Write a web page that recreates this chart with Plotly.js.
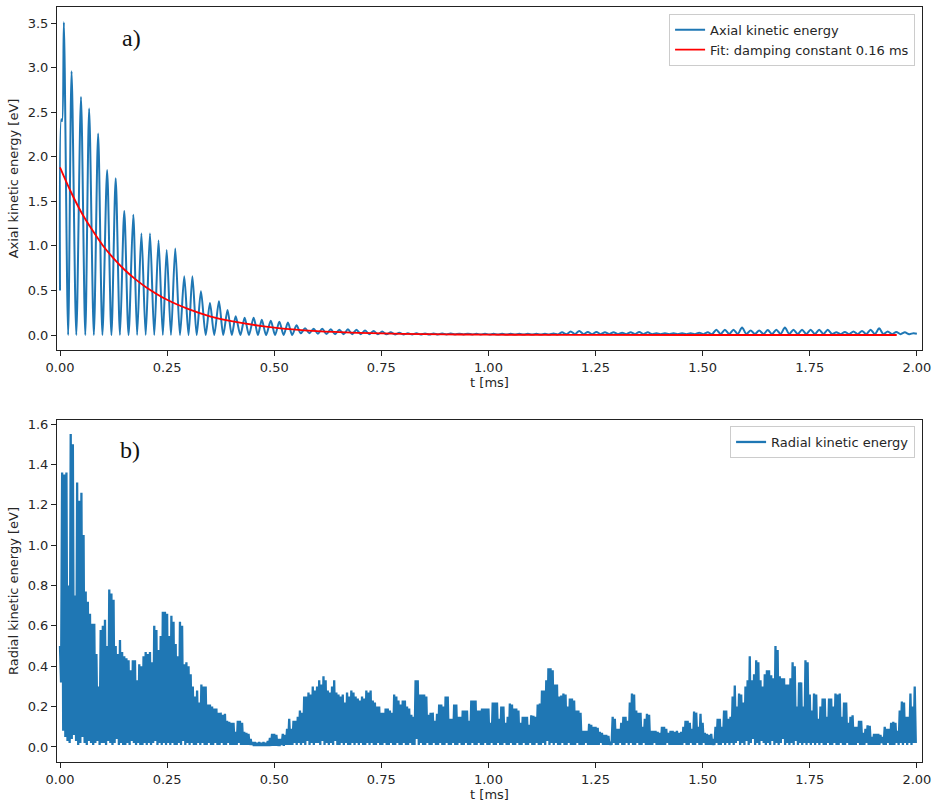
<!DOCTYPE html>
<html>
<head>
<meta charset="utf-8">
<script src="https://cdn.plot.ly/plotly-3.0.1.min.js"></script>
<style>html,body{margin:0;padding:0;background:#fff;}#chart{width:937px;height:805px;}</style>
</head>
<body>
<div id="chart"></div>
<script>
// ---------- panel a) axial kinetic energy ----------
const axStartT = [0, 0.003, 0.005];
const axStartE = [0.5, 2.42, 2.40];
const axPeakT = [
0.009,0.027,0.049,0.068,0.089,0.110,0.130,0.150,0.171,0.190,
0.210,0.230,0.249,0.269,0.290,0.309,0.329,0.350,0.371,0.391,
0.410,0.431,0.452,0.471,0.492,0.512,0.532,0.552,0.572,0.592,
0.612,0.632,0.652,0.672,0.692,0.712,0.732,0.752,0.772,0.792,
0.812,0.832,0.852,0.872,0.892,0.912,0.932,0.952,0.972,0.992,
1.012,1.032,1.052,1.072,1.092,1.112,1.132,1.152,1.172,1.192,
1.212,1.232,1.252,1.272,1.292,1.312,1.332,1.352,1.372,1.392,
1.412,1.432,1.452,1.472,1.492,1.512,1.532,1.552,1.572,1.592,
1.612,1.632,1.652,1.672,1.692,1.712,1.732,1.752,1.772,1.792,
1.812,1.832,1.852,1.872,1.892,1.912,1.932,1.952,1.972,1.992];
const axPeakE = [
3.51,2.96,2.67,2.54,2.26,1.85,1.76,1.39,1.35,1.14,
1.14,1.06,0.955,0.97,0.66,0.66,0.49,0.36,0.38,0.28,
0.21,0.195,0.195,0.17,0.16,0.15,0.14,0.11,0.075,0.07,
0.07,0.065,0.06,0.065,0.06,0.05,0.045,0.04,0.03,0.025,
0.02,0.02,0.018,0.018,0.016,0.016,0.015,0.015,0.014,0.014,
0.013,0.013,0.013,0.013,0.013,0.013,0.013,0.018,0.03,0.04,
0.045,0.035,0.035,0.03,0.03,0.025,0.03,0.035,0.03,0.02,
0.02,0.02,0.02,0.02,0.025,0.03,0.06,0.06,0.06,0.085,
0.05,0.05,0.055,0.06,0.085,0.06,0.06,0.06,0.06,0.06,
0.03,0.035,0.04,0.045,0.06,0.075,0.04,0.035,0.03,0.02];
const axTroughT = [
0.019,0.038,0.059,0.079,0.099,0.120,0.140,0.160,0.180,0.200,
0.220,0.240,0.259,0.280,0.300,0.319,0.340,0.360,0.381,0.401,
0.421,0.441,0.462,0.481,0.502,0.522,0.542,0.562,0.582,0.602,
0.622,0.642,0.662,0.682,0.702,0.722,0.742,0.762,0.782,0.802,
0.822,0.842,0.862,0.882,0.902,0.922,0.942,0.962,0.982,1.002,
1.022,1.042,1.062,1.082,1.102,1.122,1.142,1.162,1.182,1.202,
1.222,1.242,1.262,1.282,1.302,1.322,1.342,1.362,1.382,1.402,
1.422,1.442,1.462,1.482,1.502,1.522,1.542,1.562,1.582,1.602,
1.622,1.642,1.662,1.682,1.702,1.722,1.742,1.762,1.782,1.802,
1.822,1.842,1.862,1.882,1.902,1.922,1.942,1.962,1.982,2.000];
const axTroughE = [
0,0,0,0,0,0,0,0,0,0,
0,0,0,0,0,0,0,0,0,0,
0,0,0,0,0,0,0,0.02,0.02,0.015,
0.012,0.01,0.01,0.01,0.01,0.01,0.008,0.008,0.007,0.007,
0.006,0.006,0.006,0.006,0.006,0.006,0.006,0.006,0.006,0.006,
0.006,0.006,0.006,0.006,0.006,0.006,0.006,0.006,0.008,0.01,
0.01,0.01,0.01,0.01,0.01,0.01,0.01,0.01,0.01,0.01,
0.01,0.01,0.01,0.01,0.01,0.01,0.012,0.012,0.012,0.012,
0.012,0.012,0.012,0.012,0.012,0.012,0.012,0.012,0.012,0.012,
0.01,0.01,0.01,0.01,0.01,0.01,0.01,0.01,0.01,0.015];

const fitT = [0,0.025,0.05,0.075,0.1,0.125,0.15,0.175,0.2,0.25,0.3,0.35,0.4,0.5,0.6,0.7,0.8,0.9,1.0,1.2,1.5,1.953];
const fitE = [1.88,1.61,1.375,1.18,1.005,0.86,0.735,0.63,0.54,0.395,0.29,0.21,0.155,0.083,0.044,0.024,0.013,0.007,0.004,0.001,0.0,0.0];

// ---------- panel b) radial kinetic energy (sampled every 0.005 ms: crest, then base) ----------
const radStep = 0.005;
const radPeak = [
0.50,1.36,1.35,1.36,0.80,1.55,1.50,0.75,1.31,1.22,
1.26,1.05,0.77,0.72,0.66,0.61,0.61,0.46,0.30,0.58,
0.60,0.63,0.50,0.78,0.76,0.73,0.50,0.46,0.53,0.47,
0.45,0.44,0.43,0.38,0.43,0.43,0.33,0.41,0.40,0.45,
0.47,0.46,0.47,0.42,0.60,0.58,0.48,0.55,0.67,0.67,
0.66,0.55,0.65,0.62,0.51,0.45,0.62,0.60,0.41,0.42,
0.40,0.36,0.30,0.25,0.28,0.22,0.31,0.30,0.30,0.21,
0.21,0.20,0.19,0.19,0.17,0.17,0.16,0.165,0.13,0.125,
0.12,0.12,0.075,0.13,0.13,0.12,0.075,0.07,0.065,0.04,
0.025,0.025,0.02,0.025,0.02,0.025,0.02,0.03,0.045,0.065,
0.065,0.06,0.04,0.04,0.065,0.06,0.09,0.14,0.09,0.13,
0.13,0.15,0.18,0.17,0.25,0.25,0.27,0.26,0.30,0.28,
0.30,0.33,0.31,0.35,0.33,0.28,0.27,0.30,0.33,0.27,
0.26,0.25,0.26,0.22,0.27,0.25,0.28,0.27,0.25,0.24,
0.23,0.25,0.24,0.28,0.27,0.28,0.23,0.22,0.20,0.20,
0.17,0.17,0.19,0.19,0.18,0.17,0.26,0.25,0.23,0.21,
0.23,0.23,0.20,0.19,0.16,0.15,0.33,0.33,0.26,0.26,
0.26,0.25,0.16,0.17,0.17,0.13,0.165,0.21,0.21,0.20,
0.25,0.25,0.14,0.14,0.21,0.21,0.15,0.15,0.18,0.18,
0.18,0.13,0.23,0.23,0.23,0.18,0.18,0.19,0.19,0.19,
0.19,0.12,0.22,0.22,0.22,0.14,0.20,0.20,0.12,0.15,
0.215,0.21,0.19,0.19,0.18,0.12,0.15,0.15,0.15,0.11,
0.157,0.155,0.15,0.21,0.215,0.28,0.28,0.33,0.39,0.39,
0.38,0.31,0.31,0.25,0.255,0.265,0.26,0.20,0.24,0.24,
0.23,0.18,0.18,0.17,0.08,0.08,0.08,0.115,0.11,0.10,
0.10,0.095,0.075,0.07,0.06,0.06,0.055,0.025,0.15,0.14,
0.09,0.09,0.12,0.15,0.15,0.13,0.22,0.265,0.26,0.18,
0.17,0.17,0.10,0.14,0.165,0.16,0.08,0.08,0.08,0.075,
0.07,0.10,0.10,0.09,0.07,0.08,0.08,0.075,0.08,0.07,
0.075,0.10,0.13,0.13,0.12,0.09,0.175,0.17,0.10,0.165,
0.12,0.07,0.065,0.06,0.065,0.04,0.10,0.14,0.14,0.10,
0.18,0.18,0.14,0.15,0.25,0.305,0.20,0.265,0.26,0.22,
0.30,0.33,0.45,0.33,0.36,0.43,0.42,0.33,0.30,0.36,
0.38,0.38,0.355,0.34,0.50,0.48,0.35,0.34,0.34,0.31,
0.31,0.34,0.42,0.40,0.20,0.32,0.32,0.20,0.43,0.42,
0.26,0.18,0.265,0.26,0.14,0.20,0.24,0.24,0.15,0.24,
0.24,0.20,0.265,0.26,0.265,0.15,0.22,0.22,0.12,0.15,
0.157,0.10,0.10,0.13,0.13,0.07,0.09,0.107,0.105,0.05,
0.065,0.065,0.065,0.06,0.05,0.10,0.09,0.09,0.12,0.125,
0.12,0.08,0.18,0.225,0.22,0.15,0.15,0.265,0.20,0.30];
const radBase = [
0.32,0.08,0.05,0.03,0.02,0.04,0.06,0.03,0.01,0.02,
0.05,0.02,0.01,0.03,0.02,0.01,0.02,0.03,0.01,0.02,
0.02,0.01,0.03,0.02,0.01,0.02,0.04,0.01,0.02,0.01,
0.01,0.02,0.01,0.03,0.02,0.01,0.02,0.01,0.01,0.02,
0.01,0.02,0.01,0.02,0.03,0.01,0.02,0.01,0.02,0.01,
0.02,0.01,0.02,0.01,0.01,0.02,0.01,0.03,0.01,0.02,
0.01,0.02,0.01,0.01,0.02,0.01,0.02,0.01,0.01,0.02,
0.01,0.01,0.02,0.01,0.01,0.02,0.01,0.01,0.02,0.01,
0.01,0.01,0.01,0.02,0.01,0.01,0.01,0.01,0.01,0.01,
0.005,0.005,0.005,0.005,0.005,0.005,0.005,0.005,0.005,0.005,
0.005,0.005,0.005,0.01,0.005,0.01,0.01,0.01,0.01,0.02,
0.01,0.02,0.01,0.02,0.01,0.03,0.01,0.02,0.01,0.02,
0.02,0.01,0.03,0.01,0.02,0.01,0.02,0.01,0.03,0.01,
0.01,0.02,0.01,0.02,0.01,0.01,0.02,0.01,0.02,0.01,
0.02,0.01,0.01,0.02,0.01,0.02,0.01,0.01,0.02,0.01,
0.01,0.02,0.01,0.01,0.02,0.01,0.01,0.02,0.01,0.01,
0.02,0.01,0.01,0.02,0.01,0.01,0.04,0.01,0.02,0.01,
0.01,0.02,0.01,0.01,0.02,0.01,0.01,0.02,0.01,0.01,
0.02,0.01,0.01,0.02,0.01,0.01,0.02,0.01,0.01,0.02,
0.01,0.01,0.02,0.01,0.01,0.02,0.01,0.01,0.02,0.01,
0.01,0.02,0.01,0.01,0.02,0.01,0.01,0.02,0.01,0.01,
0.02,0.01,0.01,0.02,0.01,0.01,0.02,0.01,0.01,0.02,
0.01,0.01,0.02,0.01,0.01,0.02,0.01,0.03,0.01,0.02,
0.01,0.02,0.01,0.01,0.02,0.01,0.01,0.02,0.01,0.01,
0.01,0.02,0.01,0.01,0.01,0.02,0.01,0.01,0.01,0.01,
0.01,0.01,0.02,0.01,0.01,0.01,0.01,0.01,0.02,0.01,
0.01,0.02,0.01,0.01,0.02,0.01,0.02,0.01,0.01,0.02,
0.01,0.01,0.02,0.01,0.01,0.01,0.01,0.02,0.01,0.01,
0.01,0.01,0.01,0.02,0.01,0.01,0.01,0.01,0.01,0.01,
0.01,0.02,0.01,0.01,0.02,0.01,0.01,0.02,0.01,0.01,
0.02,0.01,0.01,0.01,0.01,0.01,0.02,0.01,0.01,0.02,
0.01,0.02,0.01,0.02,0.01,0.02,0.03,0.01,0.02,0.01,
0.03,0.01,0.02,0.04,0.01,0.02,0.01,0.03,0.02,0.01,
0.02,0.01,0.03,0.01,0.02,0.01,0.02,0.04,0.01,0.02,
0.01,0.02,0.01,0.03,0.01,0.02,0.01,0.02,0.01,0.02,
0.01,0.02,0.01,0.02,0.01,0.02,0.01,0.01,0.02,0.01,
0.01,0.02,0.01,0.01,0.02,0.01,0.01,0.02,0.01,0.01,
0.01,0.01,0.02,0.01,0.01,0.01,0.02,0.01,0.01,0.01,
0.01,0.01,0.01,0.02,0.01,0.01,0.02,0.01,0.01,0.01,
0.02,0.01,0.02,0.01,0.02,0.01,0.02,0.01,0.02,0.02];

const xTicks = [0, 0.25, 0.5, 0.75, 1.0, 1.25, 1.5, 1.75, 2.0];
const yTicksA = [0, 0.5, 1.0, 1.5, 2.0, 2.5, 3.0, 3.5];
const yTicksB = [0, 0.2, 0.4, 0.6, 0.8, 1.0, 1.2, 1.4, 1.6];

// ---- assemble line series ----
const axT = axStartT.slice(), axE = axStartE.slice();
for (let i = 0; i < axPeakT.length; i++) {
  axT.push(axPeakT[i]); axE.push(axPeakE[i]);
  axT.push(axTroughT[i]); axE.push(axTroughE[i]);
}
const radT = [], radE = [];
for (let i = 0; i < radPeak.length; i++) {
  radT.push(i * radStep); radE.push(radPeak[i]);
  radT.push(i * radStep + radStep / 2); radE.push(radBase[i]);
}

const FONT = 'DejaVu Sans, Arial, sans-serif';
const blue = '#1f77b4';
const TXT = '#262626';

const traces = [
  {x: axT, y: axE, type: 'scatter', mode: 'lines', name: 'Axial kinetic energy',
   line: {color: blue, width: 2, shape: 'spline', smoothing: 0.8}, xaxis: 'x', yaxis: 'y', legend: 'legend'},
  {x: fitT, y: fitE, type: 'scatter', mode: 'lines', name: 'Fit: damping constant 0.16 ms',
   line: {color: '#ff0000', width: 1.8, shape: 'spline'}, xaxis: 'x', yaxis: 'y', legend: 'legend'},
  {x: radT, y: radE, type: 'scatter', mode: 'lines', name: 'Radial kinetic energy',
   line: {color: blue, width: 2.3}, xaxis: 'x2', yaxis: 'y2', legend: 'legend2'}
];

function xAxis(anchor) {
  return {anchor: anchor, range: [-0.007, 2.012], tickvals: xTicks, tickformat: '.2f',
    ticks: 'outside', ticklen: 5, tickwidth: 1, tickcolor: '#222',
    showline: true, mirror: true, linecolor: '#222', linewidth: 1, showgrid: false, zeroline: false,
    tickfont: {family: FONT, size: 13, color: TXT},
    title: {text: 't [ms]', font: {family: FONT, size: 13, color: TXT}, standoff: 4}};
}
function yAxis(anchor, dom, rng, tv, txt) {
  return {anchor: anchor, domain: dom, range: rng, tickvals: tv, tickformat: '.1f',
    ticks: 'outside', ticklen: 5, tickwidth: 1, tickcolor: '#222',
    showline: true, mirror: true, linecolor: '#222', linewidth: 1, showgrid: false, zeroline: false,
    tickfont: {family: FONT, size: 13, color: TXT},
    title: {text: txt, font: {family: FONT, size: 13, color: TXT}, standoff: 6}};
}

const layout = {
  width: 937, height: 805,
  margin: {l: 57, r: 15, t: 7, b: 43},
  paper_bgcolor: '#fff', plot_bgcolor: '#fff',
  showlegend: true,
  xaxis: xAxis('y'),
  yaxis: yAxis('x', [0.5457, 1], [-0.168, 3.68], yTicksA, 'Axial kinetic energy [eV]'),
  xaxis2: xAxis('y2'),
  yaxis2: yAxis('x2', [0, 0.453], [-0.0744, 1.62], yTicksB, 'Radial kinetic energy [eV]'),
  legend: {x: 0.992, y: 0.991, xanchor: 'right', yanchor: 'top', bgcolor: 'rgba(255,255,255,0.9)',
    bordercolor: '#ccc', borderwidth: 1, font: {family: FONT, size: 13, color: TXT}, tracegroupgap: 0},
  legend2: {x: 0.992, y: 0.445, xanchor: 'right', yanchor: 'top', bgcolor: 'rgba(255,255,255,0.9)',
    bordercolor: '#ccc', borderwidth: 1, font: {family: FONT, size: 13, color: TXT}},
  annotations: [
    {text: 'a)', xref: 'paper', yref: 'paper', x: 0.0867, y: 0.959, xanchor: 'center', yanchor: 'middle', showarrow: false,
     font: {family: 'Liberation Serif, Times New Roman, serif', size: 24, color: '#111'}},
    {text: 'b)', xref: 'paper', yref: 'paper', x: 0.0844, y: 0.413, xanchor: 'center', yanchor: 'middle', showarrow: false,
     font: {family: 'Liberation Serif, Times New Roman, serif', size: 24, color: '#111'}}
  ]
};

Plotly.newPlot('chart', traces, layout, {displayModeBar: false, staticPlot: true});
</script>
</body>
</html>
